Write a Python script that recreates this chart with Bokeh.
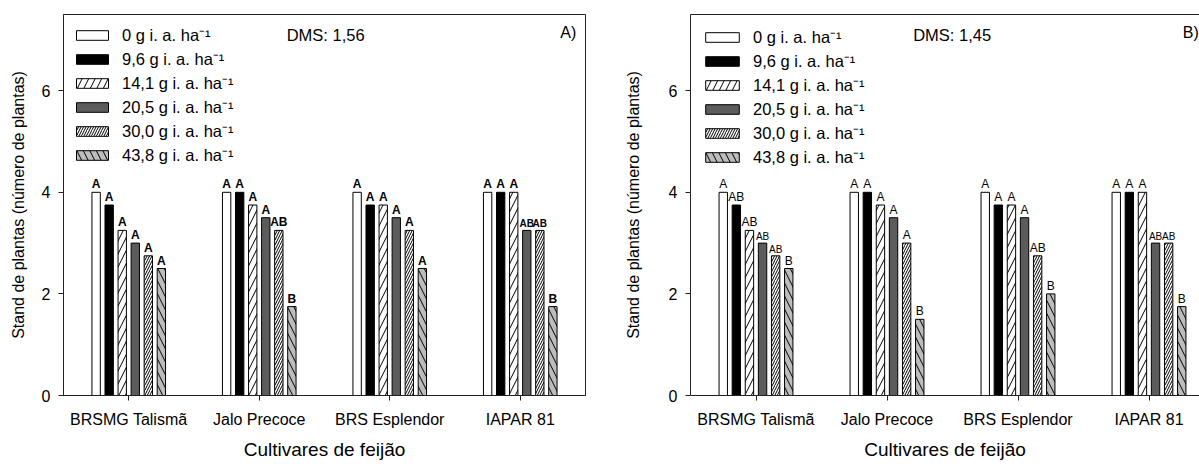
import numpy as np
from bokeh.plotting import figure
from bokeh.models import (ColumnDataSource, FixedTicker, Legend, LegendItem,
                          Label, LinearAxis, Range1d)
from bokeh.layouts import row
from bokeh.embed import file_html
from bokeh.resources import INLINE
from bokeh.core.properties import value

# ---------------- data ----------------
cultivars = ["BRSMG Talismã", "Jalo Precoce", "BRS Esplendor", "IAPAR 81"]
doses = ["0", "9,6", "14,1", "20,5", "30,0", "43,8"]
dose_labels = [d + " g i. a. ha⁻¹" for d in doses]

# Panel A) values per dose (one value per cultivar)
a_dose_0 = [4.0, 4.0, 4.0, 4.0]
a_dose_96 = [3.75, 4.0, 3.75, 4.0]
a_dose_141 = [3.25, 3.75, 3.75, 4.0]
a_dose_205 = [3.0, 3.5, 3.5, 3.25]
a_dose_300 = [2.75, 3.25, 3.25, 3.25]
a_dose_438 = [2.5, 1.75, 2.5, 1.75]
a_letters = [
    ["A", "A", "A", "A"],
    ["A", "A", "A", "A"],
    ["A", "A", "A", "A"],
    ["A", "A", "A", "AB"],
    ["A", "AB", "A", "AB"],
    ["A", "B", "A", "B"],
]
a_dms = "DMS: 1,56"

# Panel B) values per dose
b_dose_0 = [4.0, 4.0, 4.0, 4.0]
b_dose_96 = [3.75, 4.0, 3.75, 4.0]
b_dose_141 = [3.25, 3.75, 3.75, 4.0]
b_dose_205 = [3.0, 3.5, 3.5, 3.0]
b_dose_300 = [2.75, 3.0, 2.75, 3.0]
b_dose_438 = [2.5, 1.5, 2.0, 1.75]
b_letters = [
    ["A", "A", "A", "A"],
    ["AB", "A", "A", "A"],
    ["AB", "A", "A", "A"],
    ["AB", "A", "A", "AB"],
    ["AB", "A", "AB", "AB"],
    ["B", "B", "B", "B"],
]
b_dms = "DMS: 1,45"

y_ticks = [0, 2, 4, 6]

# ---------------- styles ----------------
FONT = "Liberation Sans"
offsets = [-0.25, -0.15, -0.05, 0.05, 0.15, 0.25]
bar_w = 0.064
fills = ["white", "black", "white", "#5c5c5c", "white", "#bcbcbc"]
hatches = [None, None, "/", None, "/", "\\"]
hatch_scales = [12, 12, 13, 12, 5, 13]
# (dose index, cultivar index) of labels printed in smaller type
a_small = {(3, 3), (4, 3)}
b_small = {(3, 0), (4, 0), (3, 3), (4, 3)}


def make_panel(vals, letters, small, dms, tag, width, bl, br, bt, bb,
               x_end, glyph_w, legend_margin, label_bold, ylab_standoff,
               full_outline, tag_x, tag_align, dms_x):
    p = figure(width=width, height=464, x_range=Range1d(0, x_end),
               y_range=Range1d(0, 7.5), output_backend="svg",
               toolbar_location=None, min_border_left=bl,
               min_border_right=br, min_border_top=bt, min_border_bottom=bb)
    p.xgrid.visible = False
    p.ygrid.visible = False
    p.background_fill_color = "white"
    p.border_fill_color = "white"

    centers = np.arange(len(cultivars)) + 0.5
    items = []
    for k in range(len(doses)):
        src = ColumnDataSource(dict(x=centers + offsets[k], top=vals[k]))
        kw = dict(fill_color=fills[k], line_color="black", line_width=1)
        if hatches[k]:
            kw.update(hatch_pattern=hatches[k], hatch_color="black",
                      hatch_scale=hatch_scales[k], hatch_weight=1)
        r = p.vbar(x="x", top="top", bottom=0, width=bar_w, source=src, **kw)
        items.append(LegendItem(label=dose_labels[k], renderers=[r]))

        norm_idx = [i for i in range(len(cultivars)) if (k, i) not in small]
        small_idx = [i for i in range(len(cultivars)) if (k, i) in small]
        for idx, fs in ((norm_idx, "12px"), (small_idx, "10px")):
            if not idx:
                continue
            ts = ColumnDataSource(dict(
                x=[centers[i] + offsets[k] for i in idx],
                y=[vals[k][i] for i in idx],
                t=[letters[k][i] for i in idx]))
            p.text(x="x", y="y", text="t", source=ts, text_align="center",
                   text_baseline="bottom", y_offset=-1,
                   text_font=value(FONT), text_font_size=fs,
                   text_font_style="bold" if label_bold else "normal",
                   text_color="black")

    leg = Legend(items=items, location="top_left", margin=legend_margin,
                 padding=15, border_line_color=None,
                 background_fill_alpha=0, glyph_width=glyph_w,
                 glyph_height=12, label_height=20, spacing=1,
                 label_standoff=10, label_text_font=FONT,
                 label_text_font_size="16.5px", label_text_color="black")
    p.add_layout(leg)

    p.add_layout(Label(x=dms_x, y=7.09, text=dms, text_font=FONT,
                       text_font_size="16.5px", text_baseline="middle",
                       text_color="black"))
    p.text(x=[tag_x], y=[7.15], text=[tag], text_font=value(FONT),
           text_font_size="16px", text_baseline="middle",
           text_align=tag_align, text_color="black")

    xax = p.below[0]
    yax = p.left[0]
    for ax in (xax, yax):
        ax.axis_line_color = "#222222"
        ax.major_tick_line_color = "#222222"
        ax.major_tick_out = 5
        ax.major_tick_in = 0
        ax.minor_tick_line_color = None
        ax.major_label_text_font = FONT
        ax.major_label_text_font_size = "16px"
        ax.major_label_text_color = "black"
        ax.axis_label_text_font = FONT
        ax.axis_label_text_font_style = "normal"
        ax.axis_label_text_color = "black"

    xax.ticker = FixedTicker(ticks=list(centers))
    xax.major_label_overrides = {float(c): n for c, n in zip(centers, cultivars)}
    xax.major_label_standoff = 10
    xax.axis_label = "Cultivares de feijão"
    xax.axis_label_text_font_size = "19px"
    xax.axis_label_standoff = 8

    yax.ticker = FixedTicker(ticks=y_ticks)
    yax.major_label_standoff = 8
    yax.axis_label = "Stand de plantas (número de plantas)"
    yax.axis_label_text_font_size = "16px"
    yax.axis_label_standoff = ylab_standoff

    if full_outline:
        p.outline_line_color = "#222222"
        p.outline_line_width = 1
    else:
        p.outline_line_color = None
        top = LinearAxis(ticker=FixedTicker(ticks=[]),
                         major_label_text_font_size="0px",
                         major_tick_line_color=None,
                         minor_tick_line_color=None,
                         axis_line_color="#222222")
        p.add_layout(top, "above")
    return p


a_vals = [a_dose_0, a_dose_96, a_dose_141, a_dose_205, a_dose_300, a_dose_438]
b_vals = [b_dose_0, b_dose_96, b_dose_141, b_dose_205, b_dose_300, b_dose_438]

b_end = 509 / 131.0
pa = make_panel(a_vals, a_letters, a_small, a_dms, "A)", width=600, bl=63,
                br=15, bt=14, bb=69, x_end=4.0, glyph_w=40, legend_margin=9,
                label_bold=True, ylab_standoff=12, full_outline=True,
                tag_x=3.93, tag_align="right", dms_x=1.71)
pb = make_panel(b_vals, b_letters, b_small, b_dms, "B)", width=599, bl=90,
                br=0, bt=14, bb=69, x_end=b_end, glyph_w=42,
                legend_margin=11, label_bold=False, ylab_standoff=24,
                full_outline=False, tag_x=b_end - 0.005, tag_align="right",
                dms_x=1.70)

layout = row(pa, pb, spacing=0)
open("out.html", "w").write(file_html(layout, INLINE))
